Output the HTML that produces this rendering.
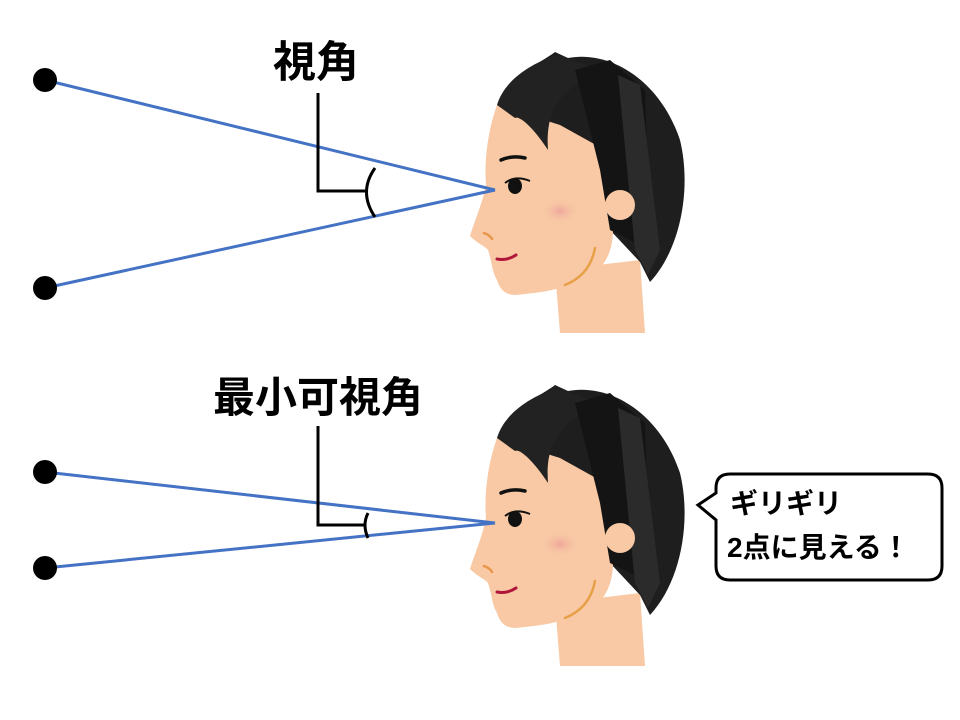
<!DOCTYPE html>
<html><head><meta charset="utf-8"><style>
body{margin:0;background:#fff;}
svg{display:block;font-family:"Liberation Sans","Noto Sans CJK JP",sans-serif;}
</style></head><body>
<svg width="960" height="720" viewBox="0 0 960 720">
<defs>
<radialGradient id="bl"><stop offset="0" stop-color="#eea59c"/><stop offset="1" stop-color="#f8c9a4" stop-opacity="0"/></radialGradient>
<g id="head">
  <path d="M555 270 L560 333 L645 333 L640 260 Z" fill="#f8c9a4"/>
  <path d="M500 100 C520 70 545 60 555 52 L568 58 C610 50 660 80 680 140 C692 190 680 250 650 282 L640 262 L610 230 Z" fill="#1e1e1e"/>
  <path d="M497 105 C488 130 484 160 486 185 C482 205 474 222 470 236 C478 244 485 246 488 250 C492 262 492 272 497 280 C500 290 506 295 515 295 C545 292 570 290 600 268 C612 255 615 235 612 215 L605 150 L560 125 Z" fill="#f8c9a4"/>
  <path d="M497 105 C505 78 535 62 557 55 L600 70 C560 90 545 110 548 150 C535 130 520 115 515 118 Z" fill="#222"/>
  <path d="M575 70 L610 60 L645 90 L650 250 L610 230 L600 170 Z" fill="#141414"/>
  <path d="M618 75 L640 85 L660 250 L648 275 L635 250 Z" fill="#2b2b2b"/>
  <circle cx="620" cy="205" r="15" fill="#f8c9a4"/>
  <ellipse cx="560" cy="211" rx="20" ry="13" fill="url(#bl)"/>
  <path d="M501 160 Q512 155 525 158" stroke="#111" stroke-width="3.5" fill="none" stroke-linecap="round"/>
  <path d="M505 183 Q515 175 530 181" stroke="#111" stroke-width="2" fill="none"/>
  <ellipse cx="515" cy="186" rx="7" ry="8" fill="#111"/>
  <path d="M484 233 Q490 235 492 239" stroke="#e8954a" stroke-width="2.5" fill="none" stroke-linecap="round"/>
  <path d="M497 259 Q507 261 516 255" stroke="#b0163a" stroke-width="3" fill="none" stroke-linecap="round"/>
  <path d="M595 248 Q590 275 565 285" stroke="#e8a048" stroke-width="2.5" fill="none" stroke-linecap="round"/>
</g>
</defs>
<use href="#head"/>
<use href="#head" transform="translate(0,333)"/>

<line x1="45" y1="80" x2="495" y2="190" stroke="#4472c4" stroke-width="3"/>
<line x1="45" y1="288" x2="495" y2="190" stroke="#4472c4" stroke-width="3"/>
<circle cx="45" cy="80" r="12" fill="#000"/>
<circle cx="45" cy="288" r="12" fill="#000"/>
<path d="M318 93 L318 191 L365 191" stroke="#000" stroke-width="3" fill="none"/>
<path d="M375 168 Q358 192 375 217" stroke="#000" stroke-width="3" fill="none"/>
<text x="316" y="77" font-size="43" font-weight="bold" text-anchor="middle">視角</text>

<line x1="45" y1="472" x2="495" y2="523" stroke="#4472c4" stroke-width="3"/>
<line x1="45" y1="568" x2="495" y2="523" stroke="#4472c4" stroke-width="3"/>
<circle cx="45" cy="472" r="12" fill="#000"/>
<circle cx="45" cy="568" r="12" fill="#000"/>
<path d="M318 426 L318 525 L365 525" stroke="#000" stroke-width="3" fill="none"/>
<path d="M368 513 Q362 525 368 538" stroke="#000" stroke-width="3" fill="none"/>
<text x="318" y="412" font-size="42" font-weight="bold" text-anchor="middle">最小可視角</text>

<path d="M730 474 L928 474 Q942 474 942 488 L942 566 Q942 580 928 580 L730 580 Q716 580 716 566 L716 520 L698 505 L716 493 L716 488 Q716 474 730 474 Z" fill="#fff" stroke="#000" stroke-width="3"/>
<text x="730" y="513" font-size="28" font-weight="bold">ギリギリ</text>
<text x="727" y="557" font-size="28" font-weight="bold">2点に見える！</text>
</svg>
</body></html>
